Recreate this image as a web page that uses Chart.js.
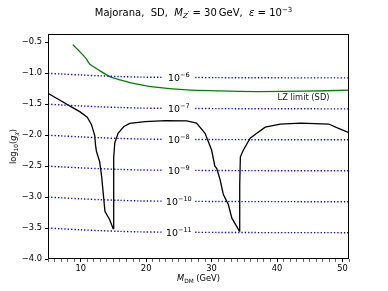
<!DOCTYPE html>
<html><head><meta charset="utf-8">
<script src="https://cdn.jsdelivr.net/npm/chart.js@4.4.1/dist/chart.umd.min.js"></script>
<style>html,body{margin:0;padding:0;background:#fff}canvas{display:block}</style>
</head><body>
<canvas id="c" width="388" height="291"></canvas>
<script>
// ---- data ----
const lzMass = [8.8, 9.85, 10.8, 11.4, 12.9, 14.45, 16.0, 17.5, 21.1, 26.2, 31.3, 37.1, 44.0, 51.0];
const lzLogG = [-0.54, -0.65, -0.76, -0.855, -0.958, -1.055, -1.108, -1.15, -1.22, -1.27, -1.285, -1.296, -1.29, -1.274];

const relicMass = [5, 6.5, 8.3, 9.85, 11.0, 11.65, 12.15, 12.25, 12.4, 12.9, 13.2, 13.7, 14.45, 14.95, 15.02, 15.06, 15.2, 15.7, 16.6, 17.5, 19.8, 23.0, 26.2, 27.7, 29.0, 30.0, 30.5, 30.8, 31.3, 31.8, 32.56, 33.1, 34.25, 34.3, 34.4, 34.86, 35.9, 36.9, 38.2, 40.5, 43.6, 47.9, 49.4, 51.0];
const relicLogG = [-1.323, -1.415, -1.527, -1.62, -1.71, -1.83, -2.01, -2.15, -2.26, -2.43, -2.67, -3.23, -3.37, -3.51, -3.0, -2.37, -2.13, -1.97, -1.86, -1.81, -1.78, -1.765, -1.77, -1.806, -1.97, -2.24, -2.5, -2.54, -2.72, -2.96, -3.12, -3.34, -3.55, -2.8, -2.35, -2.24, -2.05, -1.97, -1.87, -1.82, -1.806, -1.82, -1.89, -1.96];

const contourMass = [5, 7, 10, 13, 16, 19, 22.5, 25, 27.5, 31, 36, 42, 51];
const contour6  = [-1.000, -1.012, -1.028, -1.042, -1.053, -1.062, -1.066, null, -1.069, -1.071, -1.073, -1.074, -1.075];
const contour7  = [-1.500, -1.512, -1.528, -1.542, -1.553, -1.562, -1.566, null, -1.569, -1.571, -1.573, -1.574, -1.575];
const contour8  = [-2.000, -2.012, -2.028, -2.042, -2.053, -2.062, -2.066, null, -2.069, -2.071, -2.073, -2.074, -2.075];
const contour9  = [-2.500, -2.512, -2.528, -2.542, -2.553, -2.562, -2.566, null, -2.569, -2.571, -2.573, -2.574, -2.575];
const contour10 = [-3.000, -3.012, -3.028, -3.042, -3.053, -3.062, -3.066, null, -3.069, -3.071, -3.073, -3.074, -3.075];
const contour11 = [-3.500, -3.512, -3.528, -3.542, -3.553, -3.562, -3.566, null, -3.569, -3.571, -3.573, -3.574, -3.575];
const contourLevels = [contour6, contour7, contour8, contour9, contour10, contour11];
const contourExponents = ['6', '7', '8', '9', '10', '11'];
const contourLabelMass = 25;
const contourLabelLogG = [-1.067, -1.567, -2.067, -2.567, -3.067, -3.567];

const yTickValues = [-4.0, -3.5, -3.0, -2.5, -2.0, -1.5, -1.0, -0.5];
const xTickLabels = [10, 20, 30, 40, 50];
const xMin = 5, xMax = 51, yMin = -4.0, yMax = -0.366;
const lzLabel = 'LZ limit (SD)';
const lzLabelPos = [44.05, -1.403];

// ---- helpers ----
const FAM = '"DejaVu Sans"';
const pts = (xs, ys) => xs.map((x, i) => ({x, y: ys[i]}));
function mathText(ctx, parts, x, y, base, align) {
  let w = 0;
  const items = parts.map(([t, st, lv]) => {
    const size = lv ? base * 0.7 : base;
    const font = (st === 'i' ? 'italic ' : '') + size + 'px ' + FAM;
    ctx.font = font;
    const mw = ctx.measureText(t).width;
    w += mw;
    const dy = lv === 'sub' ? base * 0.22 : (lv === 'sup' ? -base * 0.42 : (lv === 'subprime' ? -base * 0.05 : 0));
    return {t, font, mw, dy};
  });
  let cx = align === 'center' ? x - w / 2 : (align === 'right' ? x - w : x);
  ctx.textAlign = 'left';
  ctx.textBaseline = 'alphabetic';
  for (const it of items) { ctx.font = it.font; ctx.fillText(it.t, cx, y + it.dy); cx += it.mw; }
}

const datasets = [];
contourLevels.forEach(lv => datasets.push({
  data: pts(contourMass, lv), showLine: true, spanGaps: false,
  borderColor: '#0000ff', borderWidth: 1.4, borderDash: [1.3, 2.0], pointRadius: 0, tension: 0.3
}));
datasets.push({data: pts(lzMass, lzLogG), showLine: true, borderColor: '#008000', borderWidth: 1.3, pointRadius: 0, tension: 0.2});
datasets.push({data: pts(relicMass, relicLogG), showLine: true, borderColor: '#000000', borderWidth: 1.3, pointRadius: 0, tension: 0});

const decor = {
  id: 'decor',
  afterDatasetsDraw(chart) {
    const {ctx, chartArea: a, scales: {x, y}} = chart;
    ctx.save();
    ctx.fillStyle = '#000';
    // contour labels
    contourExponents.forEach((e, i) => {
      const px = x.getPixelForValue(contourLabelMass);
      const py = y.getPixelForValue(contourLabelLogG[i]) + 3.5;
      mathText(ctx, [['10', 'n', 0], ['\u2212' + e, 'n', 'sup']], px, py, 9.4, 'center');
    });
    // LZ label
    ctx.font = '8.3px ' + FAM; ctx.textAlign = 'center'; ctx.textBaseline = 'middle';
    ctx.fillStyle = '#1a1a1a';
    ctx.fillText(lzLabel, x.getPixelForValue(lzLabelPos[0]), y.getPixelForValue(lzLabelPos[1]));
    ctx.fillStyle = '#000';
    // frame
    ctx.strokeStyle = '#000'; ctx.lineWidth = 1;
    ctx.strokeRect(Math.round(a.left) + 0.5, Math.round(a.top) + 0.5, Math.round(a.right - a.left) - 1, Math.round(a.bottom - a.top) - 1);
    // title
    const cx = (a.left + a.right) / 2;
    mathText(ctx, [['Majorana,  SD,  ', 'n', 0], ['M', 'i', 0], ['Z', 'i', 'sub'], ['\u2032', 'n', 'subprime'], [' = 30\u2009GeV,  ', 'n', 0], ['\u03b5', 'i', 0], [' = 10', 'n', 0], ['\u22123', 'n', 'sup']], cx - 5, 16, 10, 'center');
    // x label
    mathText(ctx, [['M', 'i', 0], ['DM', 'n', 'sub'], [' (GeV)', 'n', 0]], cx, 281, 8.3, 'center');
    // y label
    ctx.translate(16, (a.top + a.bottom) / 2);
    ctx.rotate(-Math.PI / 2);
    mathText(ctx, [['log', 'n', 0], ['10', 'n', 'sub'], ['(', 'n', 0], ['g', 'i', 0], ['\u03c7', 'i', 'sub'], [')', 'n', 0]], 0, 0, 8.3, 'center');
    ctx.restore();
  }
};

Chart.defaults.font.family = FAM;
Chart.defaults.font.size = 8.3;
Chart.defaults.color = '#000';

new Chart(document.getElementById('c'), {
  type: 'scatter',
  data: {datasets},
  options: {
    responsive: false, animation: false, devicePixelRatio: 1,
    layout: {padding: {left: 0, top: 34, right: 39, bottom: 0}},
    plugins: {legend: {display: false}, tooltip: {enabled: false}},
    scales: {
      x: {
        type: 'linear', min: xMin, max: xMax,
        afterFit: s => { s.height = 32; },
        afterBuildTicks: s => { const t = []; for (let v = xMin; v <= xMax; v++) t.push({value: v}); s.ticks = t; },
        ticks: {autoSkip: false, maxRotation: 0, padding: 2, callback: v => xTickLabels.includes(v) ? String(v) : ''},
        grid: {drawOnChartArea: false, tickLength: 3, tickWidth: 1, tickColor: c => (c.tick && xTickLabels.includes(c.tick.value)) ? '#000' : '#666'},
        border: {display: false}
      },
      y: {
        type: 'linear', min: yMin, max: yMax,
        afterFit: s => { s.width = 48; },
        afterBuildTicks: s => { s.ticks = yTickValues.map(v => ({value: v})); },
        ticks: {padding: 3, callback: v => v.toFixed(1).replace('-', '\u2212')},
        grid: {drawOnChartArea: false, tickLength: 3, tickWidth: 1, tickColor: '#000'},
        border: {display: false}
      }
    }
  },
  plugins: [decor]
});
</script>
</body></html>
